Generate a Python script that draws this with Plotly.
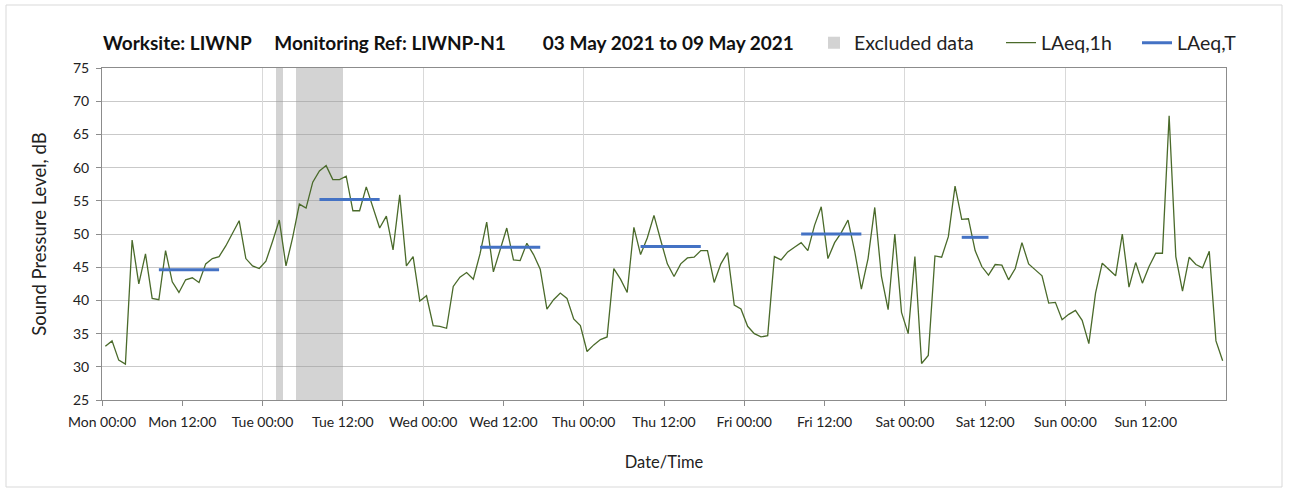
import numpy as np
import plotly.graph_objects as go

# ---------------- data ----------------
day_names = ["Mon", "Tue", "Wed", "Thu", "Fri", "Sat", "Sun"]
tick_hours = list(range(0, 168, 12))
tick_labels = [f"{day_names[h // 24]} {h % 24:02d}:00" for h in tick_hours]

# hourly LAeq,1h values (hour index 0 = Mon 00:00)
laeq_1h = [
    33.1, 33.9, 31.0, 30.4, 49.1, 42.5, 47.0, 40.3, 40.1, 47.5, 42.8, 41.2,
    43.1, 43.4, 42.7, 45.5, 46.3, 46.6, 48.2, 50.0, 52.0, 46.3, 45.2, 44.8,
    45.9, 48.9, 52.1, 45.2, 49.5, 54.5, 53.9, 57.8, 59.5, 60.3, 58.2, 58.2,
    58.7, 53.5, 53.5, 57.1, 54.0, 50.9, 52.7, 47.6, 55.9, 45.2, 46.6, 39.9,
    40.7, 36.2, 36.1, 35.8, 42.1, 43.5, 44.2, 43.2, 47.0, 51.8, 44.3, 47.6,
    50.9, 46.1, 46.0, 48.6, 46.9, 44.7, 38.7, 40.1, 41.1, 40.3, 37.2, 36.2,
    32.3, 33.3, 34.1, 34.5, 44.8, 43.2, 41.2, 51.0, 46.9, 49.4, 52.8, 49.1,
    45.5, 43.6, 45.5, 46.4, 46.5, 47.5, 47.5, 42.7, 45.5, 47.2, 39.3, 38.7,
    36.1, 35.0, 34.5, 34.7, 46.6, 46.1, 47.3, 48.0, 48.7, 47.5, 51.3, 54.1,
    46.3, 48.7, 50.2, 52.1, 47.4, 41.7, 46.3, 54.0, 43.6, 38.6, 50.0, 38.2,
    35.0, 46.6, 30.5, 31.7, 46.7, 46.5, 49.6, 57.2, 52.2, 52.3, 47.5, 45.1,
    43.8, 45.4, 45.3, 43.1, 44.8, 48.7, 45.5, 44.6, 43.7, 39.6, 39.7, 37.1,
    37.9, 38.5, 37.0, 33.5, 41.1, 45.6, 44.6, 43.7, 50.0, 42.0, 45.7, 42.6,
    45.1, 47.1, 47.1, 67.8, 46.6, 41.4, 46.5, 45.4, 44.9, 47.4, 33.9, 30.9,
]

# LAeq,T working-period averages (first / last hour index of each period)
period_first_hour = [8, 32, 56, 80, 104, 128]
period_last_hour = [17, 41, 65, 89, 113, 132]
laeq_t = [44.6, 55.2, 48.0, 48.1, 50.0, 49.5]

# excluded data periods (hour index start / end)
excluded_start = [26, 29]
excluded_end = [27, 36]

y_min, y_max, y_step = 25, 75, 5
total_hours = 168

# ---------------- figure ----------------
FONT = "Lato, 'Open Sans', sans-serif"
green = "#4a6a2a"
blue = "#4472c4"

hours_mid = np.arange(len(laeq_1h)) + 0.5

tx, ty = [], []
for s, e, v in zip(period_first_hour, period_last_hour, laeq_t):
    tx += [s + 0.5, e + 0.5, None]
    ty += [v, v, None]

fig = go.Figure()

fig.add_trace(go.Bar(
    x=[(s + e) / 2 for s, e in zip(excluded_start, excluded_end)],
    width=[e - s for s, e in zip(excluded_start, excluded_end)],
    y=[y_max - y_min] * len(excluded_start),
    base=y_min,
    marker=dict(color="rgba(150,150,150,0.42)", line=dict(width=0)),
    name="Excluded data",
    legend="legend",
    hoverinfo="skip",
))

fig.add_trace(go.Scatter(
    x=hours_mid, y=laeq_1h, mode="lines",
    line=dict(color=green, width=1.3),
    name="LAeq,1h", legend="legend2",
))

fig.add_trace(go.Scatter(
    x=tx, y=ty, mode="lines", xaxis="x2",
    line=dict(color=blue, width=3),
    name="LAeq,T", legend="legend3",
))

W, H = 1295, 490
leg_y = 1 - 43 / H
legend_common = dict(orientation="h", xref="container", yref="container",
                     y=leg_y, yanchor="middle", xanchor="left",
                     font=dict(family=FONT, size=19.5, color="#222"),
                     bgcolor="rgba(0,0,0,0)", borderwidth=0)

sp = "\u00a0"
title_text = (f"<b>Worksite: LIWNP{sp*5}Monitoring Ref: LIWNP-N1{sp*8}"
              f"03 May 2021 to 09 May 2021</b>")

fig.update_layout(
    width=W, height=H,
    margin=dict(l=102, r=69, t=68, b=90, autoexpand=False),
    paper_bgcolor="white", plot_bgcolor="white",
    font=dict(family=FONT, color="#222"),
    title=dict(text=title_text, x=103 / W, xref="container", xanchor="left",
               y=leg_y, yref="container", yanchor="middle",
               font=dict(family=FONT, size=19, color="#111")),
    showlegend=True,
    legend=dict(x=814 / W, **legend_common),
    legend2=dict(x=1001 / W, **legend_common),
    legend3=dict(x=1137 / W, **legend_common),
    bargap=0,
    xaxis=dict(
        range=[0, total_hours], tickmode="array",
        tickvals=tick_hours, ticktext=tick_labels,
        ticks="outside", ticklen=5, tickcolor="#8c8c8c",
        ticklabelstandoff=4,
        showgrid=False, zeroline=False,
        showline=True, linecolor="#8c8c8c", linewidth=1, mirror=True,
        tickfont=dict(family=FONT, size=14, color="#222"),
        title=dict(text="Date/Time", font=dict(family=FONT, size=16.5, color="#222"),
                   standoff=27),
    ),
    xaxis2=dict(
        overlaying="x", range=[0, total_hours], tick0=0, dtick=24,
        showgrid=True, gridcolor="#d9d9d9", gridwidth=1,
        showticklabels=False, ticks="", showline=False, zeroline=False,
    ),
    yaxis=dict(
        range=[y_min, y_max], tick0=y_min, dtick=y_step,
        ticks="outside", ticklen=5, tickcolor="#8c8c8c",
        ticklabelstandoff=4,
        showgrid=True, gridcolor="#c9c9c9", gridwidth=1, zeroline=False,
        showline=True, linecolor="#8c8c8c", linewidth=1, mirror=True,
        tickfont=dict(family=FONT, size=14, color="#222"),
        title=dict(text="Sound Pressure Level, dB",
                   font=dict(family=FONT, size=18.5, color="#222"), standoff=21),
    ),
)

# outer chart frame
fig.add_shape(type="rect", xref="paper", yref="paper",
              x0=(6 - 102) / 1124, x1=(1282 - 102) / 1124,
              y0=(400 - 487) / 332, y1=(400 - 5) / 332,
              line=dict(color="#d9d9d9", width=1), fillcolor="rgba(0,0,0,0)",
              layer="below")

fig.write_html("out.html", config={"displayModeBar": False},
               post_script="document.body.style.margin='0';")
